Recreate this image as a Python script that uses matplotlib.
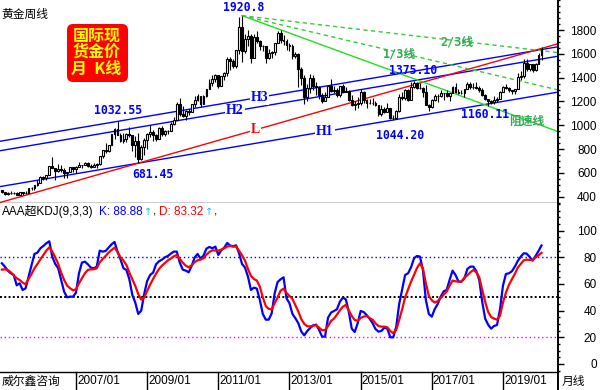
import numpy as np
import matplotlib
matplotlib.use("Agg")
import matplotlib.pyplot as plt
from matplotlib.patches import FancyBboxPatch
from matplotlib.lines import Line2D
from matplotlib.ticker import MultipleLocator
from matplotlib.transforms import IdentityTransform, blended_transform_factory

plt.rcParams['font.family'] = ['Liberation Sans', 'Noto Sans CJK SC', 'DejaVu Sans']

# monthly candles, 2004/12 .. 2020/02 (one row per year)
opens = [453,
         438, 422, 435, 428, 435, 418, 437, 429, 433, 473, 470, 495,
         513, 569, 556, 582, 654, 643, 614, 633, 626, 599, 604, 646,
         632, 650, 665, 662, 680, 657, 650, 666, 672, 743, 789, 783,
         834, 923, 972, 917, 865, 886, 930, 914, 834, 871, 718, 815,
         880, 928, 942, 916, 883, 979, 926, 954, 955, 1008, 1040, 1180,
         1096, 1081, 1118, 1113, 1180, 1213, 1244, 1181, 1248, 1307, 1357, 1386,
         1421, 1333, 1410, 1439, 1556, 1536, 1500, 1628, 1826, 1620, 1722, 1746,
         1566, 1738, 1710, 1669, 1664, 1561, 1604, 1615, 1692, 1772, 1719, 1711,
         1675, 1663, 1578, 1596, 1472, 1393, 1234, 1312, 1395, 1327, 1323, 1250,
         1202, 1240, 1326, 1284, 1296, 1250, 1327, 1282, 1287, 1210, 1171, 1182,
         1184, 1283, 1213, 1183, 1183, 1190, 1172, 1095, 1133, 1115, 1142, 1065,
         1061, 1118, 1238, 1233, 1293, 1215, 1322, 1351, 1309, 1316, 1277, 1173,
         1152, 1211, 1249, 1249, 1268, 1268, 1242, 1269, 1322, 1280, 1271, 1275,
         1303, 1345, 1318, 1325, 1315, 1298, 1253, 1223, 1201, 1192, 1215, 1222,
         1282, 1321, 1313, 1292, 1284, 1305, 1409, 1414, 1520, 1472, 1513, 1464,
         1517, 1589]
highs = [456,
         443, 440, 446, 439, 436, 443, 438, 447, 475, 478, 498, 541,
         573, 573, 585, 655, 730, 645, 677, 664, 638, 609, 650, 651,
         656, 691, 669, 695, 693, 672, 683, 681, 745, 795, 848, 838,
         929, 976, 1032.55, 932, 936, 937, 988, 918, 913, 934, 830, 890,
         934, 1006, 962, 925, 984, 990, 959, 963, 1024, 1071, 1195, 1227,
         1162, 1128, 1140, 1181, 1249, 1266, 1245, 1250, 1308, 1388, 1424, 1432,
         1424, 1412, 1448, 1576, 1577, 1553, 1632, 1913, 1920.8, 1764, 1803, 1764,
         1764, 1791, 1719, 1678, 1669, 1640, 1625, 1692, 1788, 1796, 1755, 1723,
         1695, 1683, 1617, 1605, 1488, 1424, 1348, 1434, 1424, 1361, 1330, 1267,
         1280, 1332, 1392, 1332, 1315, 1332, 1346, 1322, 1292, 1255, 1205, 1239,
         1307, 1284, 1224, 1224, 1232, 1205, 1172, 1170, 1157, 1191, 1142, 1088,
         1124, 1263, 1283, 1304, 1304, 1362, 1375.1, 1367, 1352, 1318, 1338, 1180,
         1220, 1264, 1262, 1296, 1271, 1296, 1270, 1331, 1357, 1306, 1299, 1307,
         1366, 1361, 1356, 1366, 1326, 1309, 1265, 1224, 1214, 1243, 1238, 1284,
         1326, 1347, 1324, 1300, 1306, 1439, 1453, 1555, 1557, 1517, 1515, 1525,
         1611, 1655]
lows = [434,
        411, 411, 424, 419, 414, 414, 418, 425, 431, 456, 456, 492,
        512, 539, 538, 581, 637, 543, 608, 604, 560, 561, 604, 606,
        603, 648, 637, 662, 650, 640, 648, 642, 669, 721, 770, 777,
        834, 881, 914, 860, 851, 860, 904, 786, 736, 681.45, 705, 752,
        802, 905, 865, 866, 881, 908, 908, 930, 954, 1002, 1040, 1076,
        1071, 1045, 1088, 1112, 1157, 1202, 1155, 1175, 1240, 1306, 1330, 1360,
        1309, 1326, 1381, 1417, 1462, 1478, 1480, 1601, 1534, 1603, 1669, 1523,
        1563, 1688, 1628, 1627, 1527, 1555, 1564, 1589, 1687, 1691, 1672, 1636,
        1626, 1555, 1563, 1321, 1339, 1180, 1207, 1270, 1292, 1251, 1221, 1187,
        1202, 1238, 1277, 1268, 1240, 1240, 1281, 1280, 1206, 1161, 1131, 1142,
        1167, 1191, 1142, 1175, 1170, 1162, 1077, 1080, 1105, 1111, 1052, 1044.2,
        1061, 1108, 1208, 1212, 1200, 1208, 1310, 1301, 1302, 1241, 1171, 1122,
        1146, 1206, 1195, 1240, 1214, 1237, 1204, 1267, 1274, 1261, 1264, 1236,
        1302, 1307, 1303, 1302, 1282, 1246, 1211, 1160.11, 1180, 1182, 1196, 1221,
        1276, 1303, 1281, 1266, 1266, 1301, 1382, 1400, 1459, 1459, 1446, 1455,
        1517, 1548]
closes = [438,
          422, 435, 428, 435, 418, 437, 429, 433, 473, 470, 495, 513,
          569, 556, 582, 654, 643, 614, 633, 626, 599, 604, 646, 632,
          650, 665, 662, 680, 657, 650, 666, 672, 743, 789, 783, 834,
          923, 972, 917, 865, 886, 930, 914, 834, 871, 718, 815, 880,
          928, 942, 916, 883, 979, 926, 954, 955, 1008, 1040, 1180, 1096,
          1081, 1118, 1113, 1180, 1213, 1244, 1181, 1248, 1307, 1357, 1386, 1421,
          1333, 1410, 1439, 1556, 1536, 1500, 1628, 1826, 1620, 1722, 1746, 1566,
          1738, 1710, 1669, 1664, 1561, 1604, 1615, 1692, 1772, 1719, 1711, 1675,
          1663, 1578, 1596, 1472, 1393, 1234, 1312, 1395, 1327, 1323, 1250, 1202,
          1240, 1326, 1284, 1296, 1250, 1327, 1282, 1287, 1210, 1171, 1182, 1184,
          1283, 1213, 1183, 1183, 1190, 1172, 1095, 1133, 1115, 1142, 1065, 1061,
          1118, 1238, 1233, 1293, 1215, 1322, 1351, 1309, 1316, 1277, 1173, 1152,
          1211, 1249, 1249, 1268, 1268, 1242, 1269, 1322, 1280, 1271, 1275, 1303,
          1345, 1318, 1325, 1315, 1298, 1253, 1223, 1201, 1192, 1215, 1222, 1282,
          1321, 1313, 1292, 1284, 1305, 1409, 1414, 1520, 1472, 1513, 1464, 1517,
          1589, 1640]

# AAA super KDJ(9,3,3), K and D
k_vals = [75.5,
          73, 70, 68, 66.75, 59, 60.5, 55.5, 56.75, 65.5, 74, 82.5, 83.5,
          86.75, 88.5, 90.5, 92, 80.5, 75, 71.75, 63, 54.25, 50, 50.5, 50.5,
          53.5, 68, 76, 76.75, 74.75, 72.25, 71.75, 73, 85, 84.25, 84.75, 87.25,
          89.75, 91.5, 84.25, 78.5, 71.75, 70.5, 63.5, 51.75, 46, 37.5, 40, 52.5,
          62.25, 66.75, 68.5, 74.75, 77, 78.25, 80, 81, 82.75, 84.25, 84.25, 76,
          70.75, 70, 68.75, 73.5, 79.75, 82.5, 79, 81.25, 86.5, 87.75, 86.75, 88,
          81.75, 85.25, 87.25, 90.75, 88.75, 88.25, 89, 83, 75, 72.25, 65.5, 55.5,
          57.25, 56.5, 48, 37.5, 33.25, 33.25, 38, 53, 61.5, 63.5, 65, 49.25,
          45.5, 37.5, 34.25, 30.5, 24.25, 21.5, 24.75, 27, 29, 29.5, 25.5, 20.5,
          20.5, 34.75, 38.5, 39.75, 41, 46.75, 49.75, 48.5, 39.25, 26.5, 24, 30.5,
          39.75, 39, 36.75, 34, 30.75, 26.25, 24.25, 24.75, 27.25, 26.5, 20, 20,
          28, 45, 56, 66.75, 68, 72.5, 79.25, 81, 80.5, 70.5, 48, 37.5,
          35.5, 41.25, 45, 50.5, 54.5, 55.5, 63, 70, 66.75, 61.75, 61.75, 64.25,
          71.25, 73, 73, 69.75, 63, 46.75, 34, 29.5, 26.5, 28.5, 29.25, 41,
          58.75, 67.5, 68, 69.5, 73, 77.25, 80.5, 83, 82.75, 80.25, 77.5, 81,
          84.75, 88.88]
d_vals = [70.75,
          71, 70.5, 68.75, 66.5, 64.25, 63, 61, 59.75, 63.75, 67.5, 71.75, 75,
          78.5, 81.75, 85, 87.5, 84.25, 80, 75, 68.5, 63, 58.75, 56.75, 55.25,
          56, 60.5, 64.25, 68, 70.5, 71, 71, 71.75, 76.25, 78.75, 81, 83.5,
          85.5, 87.25, 84, 80, 77.5, 74.25, 68.5, 63.5, 58.5, 52.5, 48.25, 49.75,
          54.75, 59.5, 63.75, 67.75, 71.25, 73.75, 75.75, 77.75, 79, 80.75, 81.75, 78.75,
          76, 73.75, 72.5, 74, 76.25, 77.75, 78.25, 79.25, 82, 84, 85.25, 85,
          85, 85.75, 86.75, 88, 88.5, 88, 88, 85, 81.5, 77.5, 71.25, 66,
          63.75, 62.5, 58, 50, 43.5, 41.25, 41, 45.5, 50, 55, 56.5, 53.25,
          51, 48.75, 44, 39.25, 33.5, 30, 28.25, 28.25, 28.75, 29, 27.25, 25.25,
          25.5, 28.5, 32.25, 34, 37, 40.25, 43, 44.25, 40.25, 36, 33, 32.25,
          34.5, 35.5, 36, 34.5, 33.25, 30.5, 28.5, 28, 28, 27.5, 24.75, 23,
          25.5, 33, 41, 50, 56, 61.75, 66.75, 72, 75.5, 71.75, 60.5, 51,
          47.75, 46, 47.25, 49.5, 52, 54.25, 58.75, 62.5, 62, 61.75, 61.75, 64.75,
          66.5, 68.75, 70.5, 68.75, 65, 55.5, 46.75, 39, 35.25, 34, 33.25, 36.25,
          46, 53.5, 59.25, 63.5, 67.5, 72.25, 75, 77.75, 78.25, 78, 78, 79.75,
          81.5, 83.32]

date_months = [25, 49, 73, 97, 121, 145, 169]
date_labels = ['2007/01', '2009/01', '2011/01', '2013/01', '2015/01', '2017/01', '2019/01']

# channel lines: H1 through the two lows, H2/H3 parallel to it, L red support
h1_pts = [(46, 681.45), (132, 1044.2)]
h2_pt = (139, 1375.1)
h3_pt = (39, 1032.55)
l_pts = [(46, 681.45), (187.6, 1685)]
# speed resistance fan from the 2011 top
fan_top = (81, 1920.8)
fan_end_prices = {'full': 947, '1/3': 1297, '2/3': 1610}

price_notes = [('1920.8', 81, 1920.8, 1.4, 6.2),
               ('1032.55', 39, 1032.55, 0.4, 7.9),
               ('681.45', 46, 681.45, 10.6, -8.5),
               ('1375.10', 139, 1375.1, -0.7, 7.4),
               ('1044.20', 132, 1044.2, 5.0, -11.4),
               ('1160.11', 164, 1160.11, -2.2, -5.8)]

W, H = 600, 390
fig = plt.figure(figsize=(6, 3.9), dpi=100)
ax1 = fig.add_axes([0, 1 - 203 / H, 558 / W, 203 / H])
ax2 = fig.add_axes([0, 1 - 372 / H, 558 / W, 169 / H])
x_left, x_right = -0.63, 187.56
px = IdentityTransform()

for ax in (ax1, ax2):
    ax.set_xlim(x_left, x_right)
    ax.set_xticks([])
    ax.spines['top'].set_visible(False)
    ax.spines['left'].set_visible(False)
    ax.spines['right'].set_linewidth(1.4)
    ax.spines['bottom'].set_linewidth(1.0)
    ax.yaxis.tick_right()
    ax.tick_params(axis='y', which='major', direction='out', length=4, width=1,
                   pad=24, labelsize=8.5, colors='black')
    ax.tick_params(axis='y', which='minor', direction='out', length=1.5, width=1)

ax1.set_ylim(347, 2052)
ax1.set_yticks(range(400, 1801, 200))
ax1.yaxis.set_minor_locator(MultipleLocator(50))
ax2.set_ylim(-6.0, 120.7)
ax2.set_yticks(range(0, 101, 20))
ax2.yaxis.set_minor_locator(MultipleLocator(5))
for ax in (ax1, ax2):
    for t in ax.yaxis.get_major_ticks():
        t.label2.set_horizontalalignment('right')

# candles
x = np.arange(len(closes))
o, hi, lo, c = (np.array(v, dtype=float) for v in (opens, highs, lows, closes))
up = c >= o
ax1.vlines(x, lo, hi, color='black', linewidth=0.8, zorder=3)
ax1.bar(x[up], (c - o)[up], bottom=o[up], width=0.62, facecolor='white',
        edgecolor='black', linewidth=0.8, zorder=4)
ax1.bar(x[~up], (o - c)[~up], bottom=c[~up], width=0.62, facecolor='black',
        edgecolor='black', linewidth=0.8, zorder=4)

# trend lines
xs = np.array([x_left, x_right])
slope = (h1_pts[1][1] - h1_pts[0][1]) / (h1_pts[1][0] - h1_pts[0][0])
h1 = lambda m: h1_pts[0][1] + slope * (m - h1_pts[0][0])
h2 = lambda m: h2_pt[1] + slope * (m - h2_pt[0])
h3 = lambda m: h3_pt[1] + slope * (m - h3_pt[0])
l_slope = (l_pts[1][1] - l_pts[0][1]) / (l_pts[1][0] - l_pts[0][0])
ll = lambda m: l_pts[0][1] + l_slope * (m - l_pts[0][0])
for f in (h1, h2, h3):
    ax1.plot(xs, f(xs), color='#0000ff', lw=1.0, zorder=2)
ax1.plot(xs, ll(xs), color='#ff0000', lw=1.0, zorder=2)

fan_x = [fan_top[0], x_right]
ax1.plot(fan_x, [fan_top[1], fan_end_prices['full']], color='#22dd22', lw=1.0, zorder=2)
for key in ('1/3', '2/3'):
    ax1.plot(fan_x, [fan_top[1], fan_end_prices[key]], color='#33cc33', lw=1.0,
             ls=(0, (3, 2.5)), zorder=2)

lab_kw = dict(ha='center', va='center', fontsize=10, fontweight='bold',
              family='Liberation Serif', zorder=6,
              bbox=dict(facecolor='white', edgecolor='none', pad=0.6))
ax1.text(87.0, h3(87.0), 'H3', color='#0000ff', **lab_kw)
ax1.text(78.6, h2(78.6), 'H2', color='#0000ff', **lab_kw)
ax1.text(85.5, ll(85.5), 'L', color='#ff0000', **lab_kw)
ax1.text(109.0, h1(109.0), 'H1', color='#0000ff', **lab_kw)

for txt, m, p, dx, dy in price_notes:
    ax1.annotate(txt, (m, p), xytext=(dx, dy), textcoords='offset points',
                 ha='center', va='center', fontsize=8.3, fontweight='bold',
                 family='DejaVu Sans Mono', color='#0000ff', zorder=7)

green_kw = dict(ha='center', va='center', fontsize=8.5, fontweight='bold',
                color='#33aa55', zorder=7, family=['DejaVu Sans Mono', 'Noto Sans CJK SC'])
ax1.text(134.1, 1596, '1/3线', **green_kw)
ax1.text(153.5, 1702, '2/3线', **green_kw)
ax1.text(177.0, 1030, '阻速线', **green_kw)

# KDJ panel
ax2.axhline(80, color='#0000ff', lw=1.0, ls=(0, (1, 2)), zorder=1)
ax2.axhline(50, color='black', lw=1.4, ls=(0, (1, 1.2)), zorder=1)
ax2.axhline(20, color='#ff00ff', lw=1.0, ls=(0, (1, 2)), zorder=1)
ax2.plot(x, k_vals, color='#0000ff', lw=1.6, zorder=3)
ax2.plot(x, d_vals, color='#ff0000', lw=1.6, zorder=4)

# header / captions, placed in pixels
hy = H - 211.7
fig.text(1.7, H - 14, '黄金周线', transform=px, ha='left', va='center', fontsize=8.5,
         family=['Noto Sans CJK SC'])
fig.text(1.7, hy, 'AAA超KDJ(9,3,3)', transform=px, ha='left', va='center', fontsize=8.5)
fig.text(99, hy, 'K: %.2f' % k_vals[-1], transform=px, ha='left', va='center',
         fontsize=8.5, color='#0000ff')
fig.text(148, hy, '↑', transform=px, ha='center', va='center', fontsize=7,
         color='#00ccff', family='DejaVu Sans')
fig.text(153, hy, ',', transform=px, ha='left', va='center', fontsize=8.5)
fig.text(159, hy, 'D: %.2f' % d_vals[-1], transform=px, ha='left', va='center',
         fontsize=8.5, color='#ff0000')
fig.text(209, hy, '↑', transform=px, ha='center', va='center', fontsize=7,
         color='#00ccff', family='DejaVu Sans')
fig.text(214, hy, ',', transform=px, ha='left', va='center', fontsize=8.5)

# red badge
fig.add_artist(FancyBboxPatch((67, H - 82), 61, 58, boxstyle='round,pad=0,rounding_size=6',
                              transform=px, facecolor='#ff0000', edgecolor='none'))
fig.text(96.5, H - 52, '国际现\n货金价\n月  K线', transform=px, ha='center', va='center',
         multialignment='center', linespacing=1.05, fontsize=11.5, fontweight='bold',
         color='#ffff00', family=['Noto Sans CJK SC'])

# date strip
blend = blended_transform_factory(ax2.transData, ax2.transAxes)
strip_h = 18 / 169
for m, lab in zip(date_months, date_labels):
    ax2.plot([m, m], [0, -strip_h], transform=blend, clip_on=False, color='black', lw=1)
    ax2.text(m + 0.35, -strip_h / 2, lab, transform=blend, ha='left', va='center',
             fontsize=8.5)
fig.add_artist(Line2D([558, 558], [0, 18], transform=px, color='black', lw=1.4))
fig.text(2, H - 381, '威尔鑫咨询', transform=px, ha='left', va='center', fontsize=8.5,
         family=['Noto Sans CJK SC'])
fig.text(562, H - 381, '月线', transform=px, ha='left', va='center', fontsize=8.5,
         family=['Noto Sans CJK SC'])

fig.savefig('out.png', dpi=100)
